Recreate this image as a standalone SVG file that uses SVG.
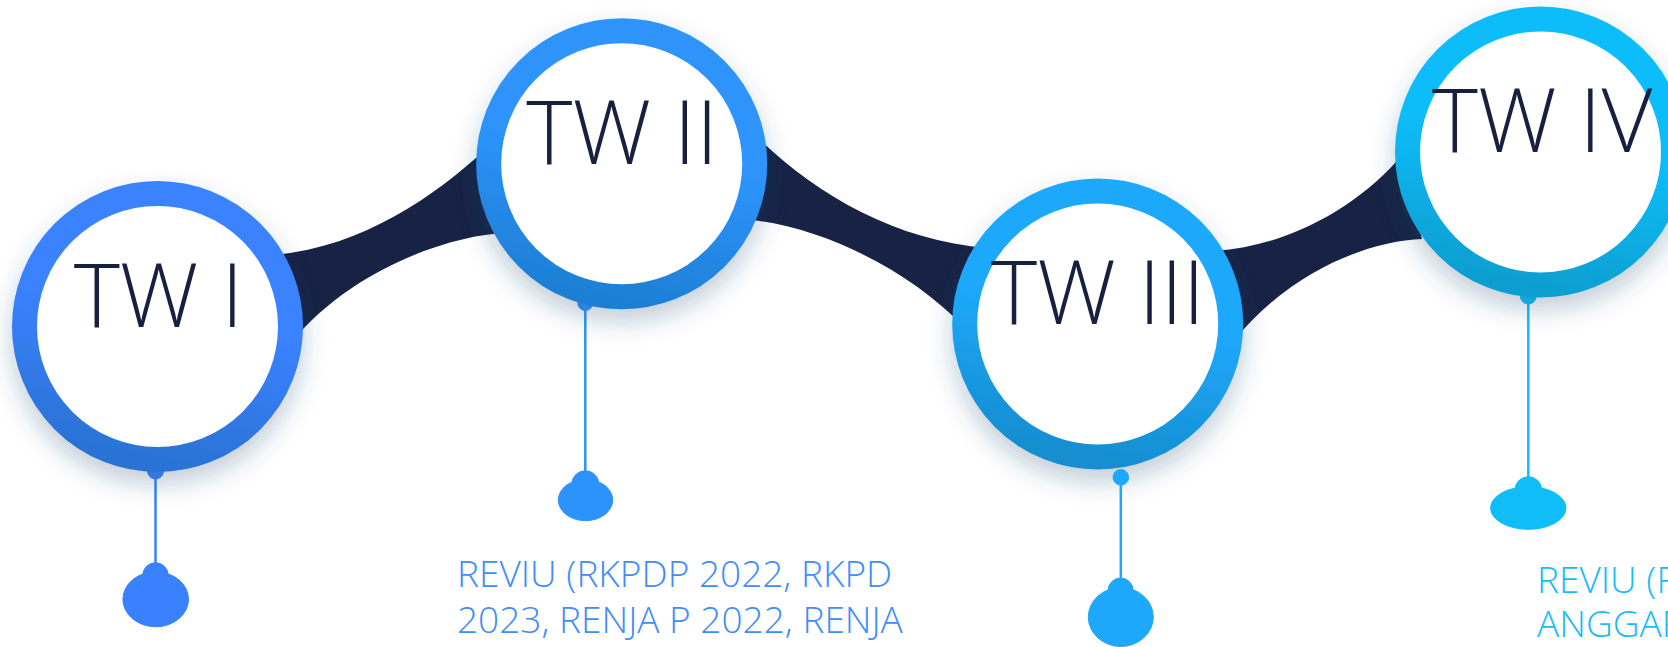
<svg xmlns="http://www.w3.org/2000/svg" width="1668" height="647" viewBox="0 0 1668 647">
<style>
.band{fill:#172244;}
.ring{fill:#ffffff;stroke-width:25;filter:url(#shadow);}
.lbl{font-family:"Open Sans","Liberation Sans",sans-serif;font-weight:300;font-size:88px;fill:#17213f;text-anchor:middle;}
.desc{font-family:"Open Sans","Liberation Sans",sans-serif;font-weight:300;font-size:37px;}
.c1{fill:#3a81fd;stroke:#3a81fd;}
.c2{fill:#2c93fc;stroke:#2c93fc;}
.c3{fill:#1ea8fb;stroke:#1ea8fb;}
.c4{fill:#10bdf9;stroke:#10bdf9;}
.stem{stroke-width:2.5;fill:none;}
</style>
<defs>
<filter id="shadow" x="-30%" y="-30%" width="160%" height="170%">
<feDropShadow dx="0" dy="12" stdDeviation="12" flood-color="#1b4e73" flood-opacity="0.28"/>
</filter>
<linearGradient id="g1" x1="0.6" y1="0" x2="0.4" y2="1"><stop offset="0.45" stop-color="#3a82fe"/><stop offset="1" stop-color="#2a72d4"/></linearGradient>
<linearGradient id="g2" x1="0.6" y1="0" x2="0.4" y2="1"><stop offset="0.45" stop-color="#2d94fc"/><stop offset="1" stop-color="#1d7fd4"/></linearGradient>
<linearGradient id="g3" x1="0.6" y1="0" x2="0.4" y2="1"><stop offset="0.45" stop-color="#1fa8fb"/><stop offset="1" stop-color="#158ed0"/></linearGradient>
<linearGradient id="g4" x1="0.6" y1="0" x2="0.4" y2="1"><stop offset="0.45" stop-color="#10bdf9"/><stop offset="1" stop-color="#0b9ed0"/></linearGradient>
</defs>
<rect width="1668" height="647" fill="#ffffff"/>
<g id="connectors">
<path class="band" d="M 275,255 C 365,246 435,195 485,150 L 505,233 C 450,235 350,270 292,342 Z"/>
<path class="band" d="M 752,132 C 810,190 890,240 988,248 L 965,328 C 910,270 820,225 742,219 Z"/>
<path class="band" d="M 1215,251 C 1292,246 1362,203 1402,155 L 1422,239 C 1370,241 1290,270 1232,343 Z"/>
</g>
<g id="node-tw1">
<line class="stem c1" x1="155.5" y1="471" x2="155.5" y2="570"/>
<circle class="c1" cx="155.5" cy="471" r="8"/>
<circle class="ring" cx="157.5" cy="326.5" r="133" stroke="url(#g1)"/>
<text class="lbl" x="158.5" y="326.5">TW I</text>
<circle class="c1" cx="155.5" cy="575.5" r="12.8"/>
<ellipse class="c1" cx="155.7" cy="599.3" rx="32.8" ry="27.5"/>
</g>
<g id="node-tw2">
<line class="stem c2" x1="585.3" y1="303" x2="585.3" y2="478"/>
<circle class="c2" cx="585.3" cy="303" r="7.5"/>
<circle class="ring" cx="621.7" cy="163.8" r="133" stroke="url(#g2)"/>
<text class="lbl" x="622.3" y="163.8">TW II</text>
<circle class="c2" cx="585.3" cy="484.3" r="13.6"/>
<ellipse class="c2" cx="585.5" cy="500" rx="27.2" ry="20.7"/>
<text class="desc" fill="#3d8ef9"><tspan x="457" y="587">REVIU (RKPDP 2022, RKPD</tspan><tspan x="457" y="633">2023, RENJA P 2022, RENJA</tspan></text>
</g>
<g id="node-tw3">
<circle class="ring" cx="1097.7" cy="324" r="133" stroke="url(#g3)"/>
<text class="lbl" x="1098" y="324">TW III</text>
<line class="stem c3" x1="1120.8" y1="477" x2="1120.8" y2="585"/>
<circle class="c3" cx="1120.8" cy="477.3" r="7.8"/>
<circle class="c3" cx="1120.6" cy="590.5" r="12.5"/>
<ellipse class="c3" cx="1120.8" cy="617" rx="32.5" ry="29.5"/>
</g>
<g id="node-tw4">
<line class="stem c4" x1="1528.3" y1="296" x2="1528.3" y2="482"/>
<circle class="c4" cx="1528.3" cy="296" r="8"/>
<circle class="ring" cx="1540.5" cy="152" r="133" stroke="url(#g4)"/>
<text class="lbl" x="1542" y="152">TW IV</text>
<circle class="c4" cx="1528.3" cy="490" r="13.3"/>
<ellipse class="c4" cx="1528.3" cy="508" rx="37.7" ry="21.3"/>
<text class="desc" fill="#15bdf7"><tspan x="1537" y="592.7">REVIU (R</tspan><tspan x="1537" y="636.7">ANGGAR</tspan></text>
</g>
</svg>
